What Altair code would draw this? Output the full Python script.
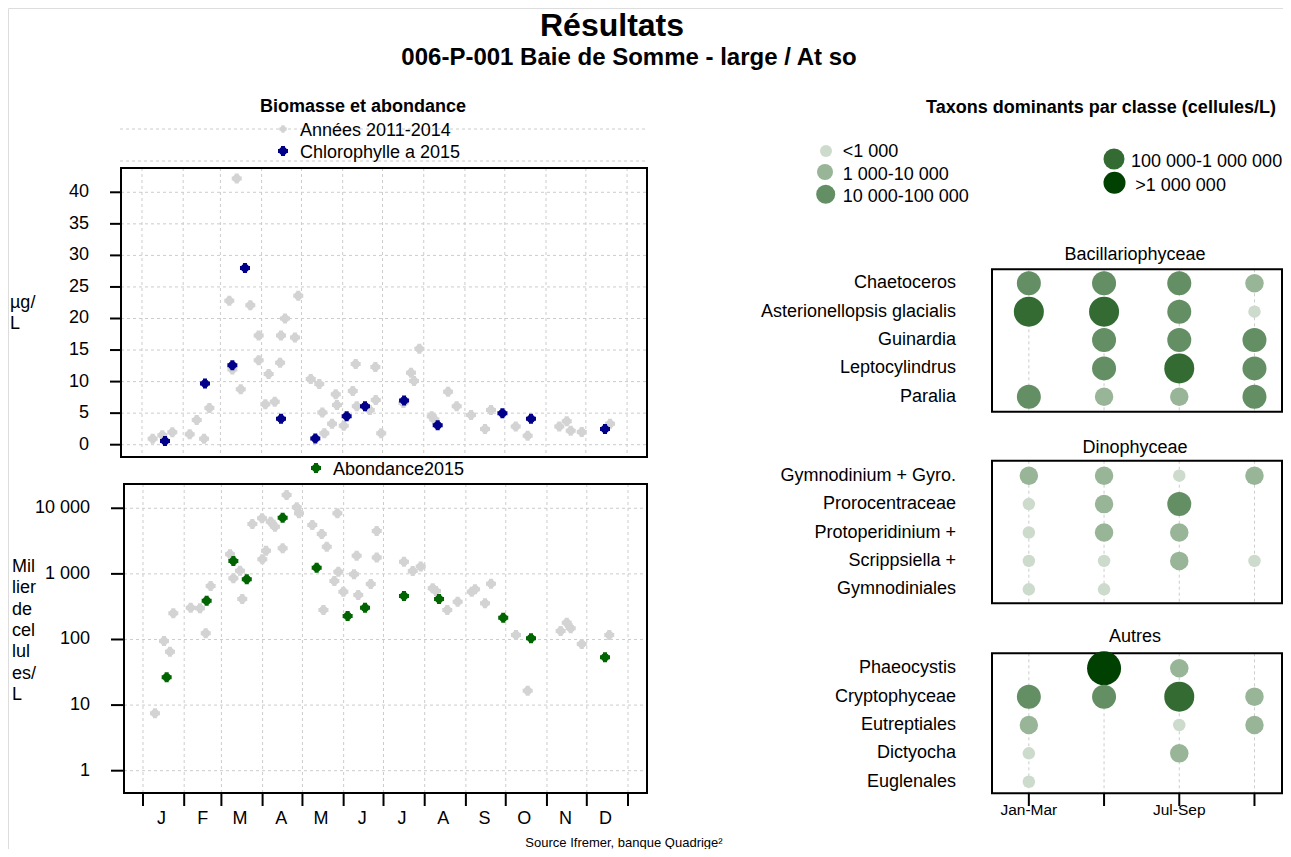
import altair as alt
import pandas as pd

# ---------------- data ----------------
months = ["J", "F", "M", "A", "M", "J", "J", "A", "S", "O", "N", "D"]
month_start = [0, 31, 59, 90, 120, 151, 181, 212, 243, 273, 304, 334, 365]
month_mid = [14, 45, 73, 104, 134, 165, 195, 226, 257, 287, 318, 348]

chl_ticks = [0, 5, 10, 15, 20, 25, 30, 35, 40]
abd_ticks = [1, 10, 100, 1000, 10000]
abd_tick_labels = ["1", "10", "100", "1 000", "10 000"]

# Chlorophylle a, years 2011-2014 (day of year, µg/L)
hist_chl_day = [8.0, 15.3, 22.8, 35.9, 41.2, 46.7, 50.7, 65.7, 68.0, 71.3, 74.3, 81.5, 87.8, 87.8,
                92.8, 95.3, 99.9, 103.9, 104.6, 107.6, 115.1, 117.6, 127.0, 133.4, 135.7, 137.2,
                143.0, 145.8, 146.7, 151.8, 158.6, 160.8, 161.6, 171.4, 175.6, 175.9, 180.0,
                196.7, 202.4, 204.7, 208.7, 218.0, 220.0, 230.3, 236.8, 247.6, 258.1, 262.6,
                281.2, 290.2, 314.0, 319.6, 322.6, 330.9, 352.2]
hist_chl_val = [0.95, 1.49, 1.96, 1.65, 3.9, 0.95, 5.8, 22.8, 11.9, 42.2, 8.8, 22.1, 17.3, 13.4,
                6.4, 11.2, 6.8, 13.0, 17.3, 20.0, 17.0, 23.6, 10.4, 9.6, 5.1, 1.8,
                3.3, 8.0, 6.3, 3.0, 8.5, 12.8, 6.1, 5.5, 12.3, 7.1, 1.8,
                6.6, 11.4, 10.1, 15.2, 4.5, 4.0, 8.4, 6.1, 4.7, 2.5, 5.5,
                2.9, 1.4, 2.9, 3.7, 2.2, 2.0, 3.3]

# Chlorophylle a 2015
chl15_day = [17.3, 47.4, 68.0, 77.5, 104.6, 130.4, 154.0, 167.8, 197.2, 222.5, 271.2, 292.7, 348.4]
chl15_val = [0.6, 9.7, 12.6, 28.0, 4.1, 1.0, 4.5, 6.1, 7.0, 3.1, 5.0, 4.1, 2.5]

# Abondance, years 2011-2014 (milliers de cellules/L)
hist_abd_day = [9.0, 15.8, 20.3, 22.8, 35.9, 42.9, 47.2, 50.9, 65.5, 68.0, 73.0, 74.7, 82.3, 89.6,
                89.8, 92.6, 96.1, 99.3, 105.1, 108.1, 115.7, 117.4, 127.4, 134.5, 135.8, 138.3,
                144.0, 146.3, 147.0, 150.8, 158.8, 160.8, 162.0, 171.4, 175.9, 175.9, 196.4,
                203.0, 209.0, 218.0, 220.5, 229.0, 236.8, 247.4, 249.9, 257.4, 261.9, 280.7,
                289.5, 314.3, 318.9, 321.9, 330.2, 350.9]
hist_abd_val = [7.5, 95, 65, 251, 305, 299, 124, 654, 1990, 857, 1120, 414, 5770, 7050,
                1670, 2260, 6250, 5250, 2460, 15950, 10350, 8390, 5560, 4060, 282, 2600,
                780, 8390, 1080, 535, 985, 1890, 477, 702, 4510, 1770, 1535,
                1107, 1290, 603, 548, 282, 377, 535, 582, 356, 710, 117,
                16.6, 135, 180, 148, 85, 117]

# Abondance 2015
abd15_day = [17.8, 47.9, 68.0, 78.1, 105.1, 130.7, 154.0, 167.1, 196.4, 222.8, 271.1, 292.0, 347.7]
abd15_val = [26.5, 390, 1573, 828, 7190, 1244, 228, 305, 460, 414, 215, 104, 53.5]

quarters = [1, 2, 3, 4]
quarter_labels = ["Jan-Mar", "", "Jul-Sep", ""]

class_labels = ["<1 000", "1 000-10 000", "10 000-100 000", "100 000-1 000 000", ">1 000 000"]

bac_taxa = ["Chaetoceros", "Asterionellopsis glacialis\u00a0\u00a0", "Guinardia", "Leptocylindrus", "Paralia"]
bac_class = [[3, 3, 3, 2], [4, 4, 3, 1], [0, 3, 3, 3], [0, 3, 4, 3], [3, 2, 2, 3]]
dino_taxa = ["Gymnodinium + Gyro.", "Prorocentraceae", "Protoperidinium +", "Scrippsiella +", "Gymnodiniales"]
dino_class = [[2, 2, 1, 2], [1, 2, 3, 0], [1, 2, 2, 0], [1, 1, 2, 1], [1, 1, 0, 0]]
autres_taxa = ["Phaeocystis", "Cryptophyceae", "Eutreptiales", "Dictyocha", "Euglenales"]
autres_class = [[0, 5, 2, 0], [3, 3, 4, 2], [2, 0, 1, 2], [1, 0, 2, 0], [1, 0, 0, 0]]

# ---------------- styles ----------------
FONT = "Liberation Sans"
GRID = "#cccccc"
GREY = "#d3d3d3"
BLUE = "#00008b"
GREEN = "#006400"
class_colors = ["#cddbcd", "#98b598", "#648e64", "#336b33", "#004000"]
class_sizes = [156, 342, 576, 900, 1156]
legend_sizes = [144, 256, 361, 441, 484]


def P(v):
    return v - 8


one = pd.DataFrame({"k": [0]})
layers = []


def add_text(text, x, y, size=18, bold=False, align="center"):
    layers.append(alt.Chart(pd.DataFrame({"t": [text]})).mark_text(
        font=FONT, fontSize=size, fontWeight="bold" if bold else "normal",
        align=align, baseline="middle", color="black"
    ).encode(x=alt.value(P(x)), y=alt.value(P(y)), text="t:N"))


def add_box(x0, x1, y0, y1, width=2):
    layers.append(alt.Chart(one).mark_rect(fillOpacity=0, stroke="black", strokeWidth=width).encode(
        x=alt.value(P(x0)), x2=alt.value(P(x1)), y=alt.value(P(y0)), y2=alt.value(P(y1))))


def add_hgrid(vals, ys, x0, x1, color=GRID, dash=(3, 3), width=1):
    layers.append(alt.Chart(pd.DataFrame({"v": vals})).mark_rule(
        color=color, strokeDash=list(dash), strokeWidth=width).encode(
        y=alt.Y("v:Q", scale=ys, axis=None), x=alt.value(P(x0)), x2=alt.value(P(x1))))


def add_vgrid(vals, xs, y0, y1, color=GRID, dash=(3, 3), width=1):
    enc_kwargs = dict(x=alt.X("d:Q", scale=xs, axis=None), y=alt.value(P(y0)), y2=alt.value(P(y1)))
    mk = dict(color=color, strokeWidth=width)
    if dash:
        mk["strokeDash"] = list(dash)
    layers.append(alt.Chart(pd.DataFrame({"d": vals})).mark_rule(**mk).encode(**enc_kwargs))


def add_points(days, vals, xs, ys, color, csize=64, xsize=100):
    df = pd.DataFrame({"d": days, "v": vals})
    enc = dict(x=alt.X("d:Q", scale=xs, axis=None), y=alt.Y("v:Q", scale=ys, axis=None))
    layers.append(alt.Chart(df).mark_point(shape="circle", filled=True, color=color, size=csize,
                                           opacity=1, strokeWidth=0).encode(**enc))
    layers.append(alt.Chart(df).mark_point(shape="cross", filled=True, color=color, size=xsize,
                                           opacity=1, strokeWidth=0).encode(**enc))


def add_symbol(x, y, color, csize, xsize=None):
    layers.append(alt.Chart(one).mark_point(shape="circle", filled=True, color=color, size=csize,
                                            opacity=1, strokeWidth=0).encode(
        x=alt.value(P(x)), y=alt.value(P(y))))
    if xsize:
        layers.append(alt.Chart(one).mark_point(shape="cross", filled=True, color=color, size=xsize,
                                                opacity=1, strokeWidth=0).encode(
            x=alt.value(P(x)), y=alt.value(P(y))))


# ---------------- titles ----------------
add_text("Résultats", 612, 26, size=32, bold=True)
add_text("006-P-001 Baie de Somme - large / At so", 629, 58, size=24, bold=True)
add_text("Biomasse et abondance", 363, 107, size=18, bold=True)
add_text("Taxons dominants par classe (cellules/L)", 1101, 108, size=18, bold=True)
add_text("Source Ifremer, banque Quadrige²", 624, 843, size=13)

# ---------------- top-left panel (chlorophylle) ----------------
xs_top = alt.Scale(domain=[-15.8, 380.0], range=[P(121), P(647)], nice=False, zero=False)
ys_top = alt.Scale(domain=[-1.95, 43.85], range=[P(457), P(168)], nice=False, zero=False)

for yy in (129, 161):
    layers.append(alt.Chart(one).mark_rule(color=GRID, strokeDash=[3, 3], strokeWidth=1).encode(
        x=alt.value(P(120)), x2=alt.value(P(648)), y=alt.value(P(yy))))
add_symbol(283, 129, GREY, 36, 56)
add_text("Années 2011-2014", 300, 131, align="left")
add_symbol(283, 151, BLUE, 64, 100)
add_text("Chlorophylle a 2015", 300, 153, align="left")

add_hgrid(chl_ticks, ys_top, 121, 647)
add_vgrid(month_start, xs_top, 168, 457)
add_box(121, 647, 168, 457)
layers.append(alt.Chart(pd.DataFrame({"v": chl_ticks})).mark_rule(color="black", strokeWidth=2).encode(
    y=alt.Y("v:Q", scale=ys_top, axis=None), x=alt.value(P(110)), x2=alt.value(P(121))))
layers.append(alt.Chart(pd.DataFrame({"v": chl_ticks, "lab": [str(t) for t in chl_ticks]})).mark_text(
    font=FONT, fontSize=18, align="right", baseline="middle", color="black").encode(
    y=alt.Y("v:Q", scale=ys_top, axis=None), x=alt.value(P(89)), text="lab:N"))
for i, line in enumerate(["µg/", "L"]):
    add_text(line, 10, 302.5 + i * 21, align="left")

add_points(hist_chl_day, hist_chl_val, xs_top, ys_top, GREY)
add_points(chl15_day, chl15_val, xs_top, ys_top, BLUE)

# ---------------- bottom-left panel (abondance) ----------------
xs_bot = alt.Scale(domain=[-14.3, 379.3], range=[P(124), P(647)], nice=False, zero=False)
ys_bot = alt.Scale(type="log", domain=[0.457, 23440], range=[P(793), P(484)], nice=False)

add_symbol(316, 468, GREEN, 64, 100)
add_text("Abondance2015", 333, 470, align="left")

add_hgrid(abd_ticks, ys_bot, 124, 647)
add_vgrid(month_start, xs_bot, 484, 793)
add_box(124, 647, 484, 793)
layers.append(alt.Chart(pd.DataFrame({"v": abd_ticks})).mark_rule(color="black", strokeWidth=2).encode(
    y=alt.Y("v:Q", scale=ys_bot, axis=None), x=alt.value(P(111)), x2=alt.value(P(124))))
layers.append(alt.Chart(pd.DataFrame({"v": abd_ticks, "lab": abd_tick_labels})).mark_text(
    font=FONT, fontSize=18, align="right", baseline="middle", color="black").encode(
    y=alt.Y("v:Q", scale=ys_bot, axis=None), x=alt.value(P(90)), text="lab:N"))
add_vgrid(month_start, xs_bot, 793, 806, color="black", dash=None, width=2)
layers.append(alt.Chart(pd.DataFrame({"d": month_mid, "lab": months})).mark_text(
    font=FONT, fontSize=18, align="center", baseline="middle", color="black").encode(
    x=alt.X("d:Q", scale=xs_bot, axis=None), y=alt.value(P(819)), text="lab:N"))
for i, line in enumerate(["Mil", "lier", "de", "cel", "lul", "es/", "L"]):
    add_text(line, 12, 566.7 + i * 21.4, align="left")

add_points(hist_abd_day, hist_abd_val, xs_bot, ys_bot, GREY)
add_points(abd15_day, abd15_val, xs_bot, ys_bot, GREEN)

# ---------------- right side: dominant taxa ----------------
leg_sym = [(826, 151), (825, 172), (825.7, 194.3), (1114, 159), (1114.5, 182.7)]
leg_txt = [(842.7, 152.3), (842.7, 175), (842.7, 196.7), (1131, 161.7), (1135.3, 186)]
for k in range(5):
    add_symbol(leg_sym[k][0], leg_sym[k][1], class_colors[k], legend_sizes[k])
    add_text(class_labels[k], leg_txt[k][0], leg_txt[k][1], align="left")

xs_q = alt.Scale(domain=[0.51, 4.366], range=[P(992), P(1282)], nice=False, zero=False)
size_scale = alt.Scale(type="linear", domain=[1, 2, 3, 4, 5], range=class_sizes, zero=False, nice=False)

groups = [
    ("Bacillariophyceae", bac_taxa, bac_class, (269.3, 411.7), (269.15, 410.9), 255),
    ("Dinophyceae", dino_taxa, dino_class, (460.7, 603.3), (461.5, 603.5), 448),
    ("Autres", autres_taxa, autres_class, (653.3, 793.3), (654.1, 795.9), 637),
]
for name, taxa, classes, box, rng, ty in groups:
    ys_g = alt.Scale(domain=[0.5, 5.5], range=[P(rng[0]), P(rng[1])], nice=False, zero=False)
    add_text(name, 1135, ty)
    add_vgrid(quarters, xs_q, box[0], box[1])
    add_box(992, 1282, box[0], box[1])
    rows = []
    for i, taxon in enumerate(taxa):
        for q, c in zip(quarters, classes[i]):
            if c > 0:
                rows.append({"row": i + 1, "q": q, "cls": c})
    df = pd.DataFrame(rows)
    layers.append(alt.Chart(df).mark_point(shape="circle", filled=True, opacity=1, strokeWidth=0).encode(
        x=alt.X("q:Q", scale=xs_q, axis=None),
        y=alt.Y("row:Q", scale=ys_g, axis=None),
        color=alt.Color("cls:O", scale=alt.Scale(domain=[1, 2, 3, 4, 5], range=class_colors), legend=None),
        size=alt.Size("cls:Q", scale=size_scale, legend=None),
    ))
    layers.append(alt.Chart(pd.DataFrame({"row": list(range(1, 6)), "lab": taxa})).mark_text(
        font=FONT, fontSize=18, align="right", baseline="middle", color="black").encode(
        y=alt.Y("row:Q", scale=ys_g, axis=None), x=alt.value(P(956)), text="lab:N"))

layers.append(alt.Chart(pd.DataFrame({"d": quarters})).mark_rule(color="black", strokeWidth=2).encode(
    x=alt.X("d:Q", scale=xs_q, axis=None), y=alt.value(P(793)), y2=alt.value(P(806))))
layers.append(alt.Chart(pd.DataFrame({"d": quarters, "lab": quarter_labels})).mark_text(
    font=FONT, fontSize=15.5, align="center", baseline="middle", color="black").encode(
    x=alt.X("d:Q", scale=xs_q, axis=None), y=alt.value(P(810)), text="lab:N"))

chart = alt.layer(*layers).resolve_scale(
    x="independent", y="independent", color="independent", size="independent"
).properties(
    width=1275, height=841, padding=0,
    autosize=alt.AutoSizeParams(type="none"),
).configure_view(strokeWidth=0, stroke="transparent").configure(background="white")

chart.save("out.html", embed_options={"renderer": "svg", "actions": False})
